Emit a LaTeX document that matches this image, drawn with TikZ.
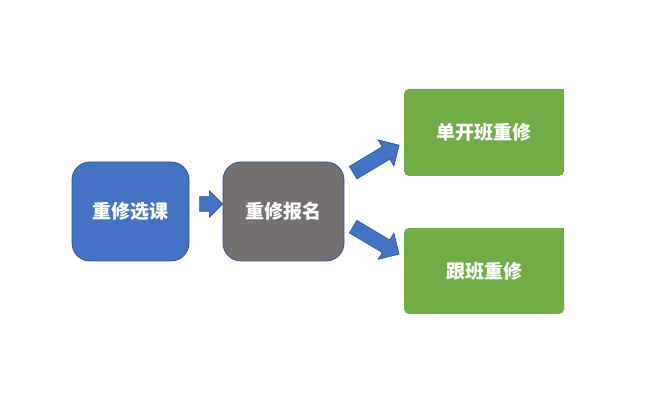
\documentclass[tikz,border=0pt]{standalone}
\usepackage{fontspec}
\newfontfamily\cjk{Noto Sans CJK SC}
\usepackage{tikz}
\usetikzlibrary{shapes.arrows}
\definecolor{fillblue}{HTML}{4472C4}
\definecolor{edgeblue}{HTML}{2F528F}
\definecolor{fillgray}{HTML}{767171}
\definecolor{fillgreen}{HTML}{70AD47}
\tikzset{stage/.style={draw=edgeblue, line width=0.8pt, rounded corners=18pt,
  inner sep=0pt, text=white, font=\cjk\bfseries\fontsize{19}{21}\selectfont},
  result/.style={fill=fillgreen, rounded corners=5pt, inner sep=0pt,
  minimum width=160pt, minimum height=87pt, text=white,
  font=\cjk\bfseries\fontsize{19}{21}\selectfont}}

\begin{document}
\begin{tikzpicture}[x=1pt, y=1pt, blk/.style={single arrow, draw=edgeblue,
  fill=fillblue, line width=0.6pt, inner xsep=0pt, inner ysep=7pt,
  single arrow head indent=0pt}]
  \useasboundingbox[fill=white] (0,0) rectangle (659,395);
  \node[stage, fill=fillblue, minimum width=117pt, minimum height=99pt]
    (xk) at (130.5, 183.5) {重修选课};
  \node[stage, fill=fillgray, minimum width=121pt, minimum height=99pt]
    (bm) at (283.5, 183.5) {重修报名};
  \node[result] (dk) at (484, 262.5) {单开班重修};
  \node[result, minimum height=86pt] (gb) at (484, 124) {跟班重修};
  % square top right corners
  \fill[fillgreen] (dk.north east) rectangle ++(-6,-6);
  \fill[fillgreen] (gb.north east) rectangle ++(-6,-6);
  % block arrows
  \node[blk, minimum height=23pt, single arrow head extend=6pt]
    (a1) at (207.5, 191) {};
  \node[blk, minimum height=53.6pt, single arrow head extend=8pt,
    rotate=30.9] (a2) at (373, 234.25) {};
  \node[blk, minimum height=53.6pt, single arrow head extend=8pt,
    rotate=-30.9] (a3) at (373, 156.5) {};
\end{tikzpicture}
\end{document}
